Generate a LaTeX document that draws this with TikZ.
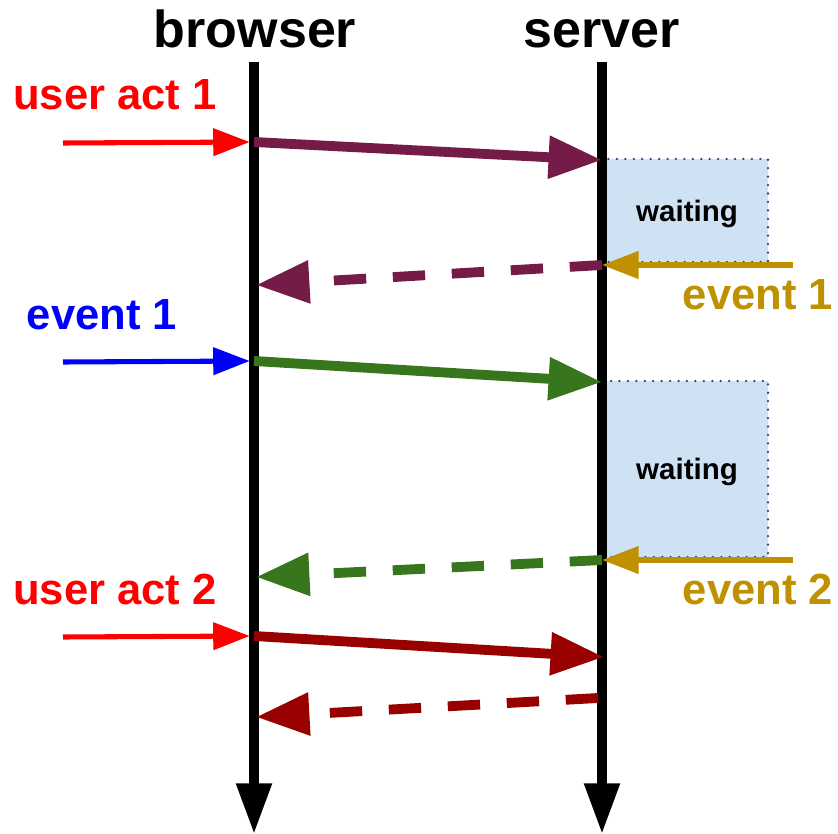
\documentclass[tikz,border=0pt]{standalone}
\usepackage{fontspec}
\setmainfont{Liberation Sans}
\usetikzlibrary{arrows.meta}
\definecolor{plum}{HTML}{741B47}
\definecolor{leaf}{HTML}{38761D}
\definecolor{blood}{HTML}{990000}
\definecolor{gold}{HTML}{BF9000}
\definecolor{sky}{HTML}{CFE2F3}
\definecolor{navy}{HTML}{1C4587}
\begin{document}
\begin{tikzpicture}[x=0.025cm,y=-0.025cm,
  head/.style={font=\fontsize{37}{40}\selectfont\bfseries,anchor=base},
  lbl/.style={font=\fontsize{31}{34}\selectfont\bfseries,anchor=base},
  waittext/.style={font=\fontsize{21}{24}\selectfont\bfseries,anchor=base},
  life/.style={draw,line width=6.5pt,-{Triangle[length=36pt,width=24pt]}},
  input/.style={draw,line width=3.6pt,shorten >=3pt,-{Triangle[length=26pt,width=19pt]}},
  msg/.style={draw,line width=7pt,-{Triangle[length=38pt,width=29pt]}},
  reply/.style={msg,dash pattern=on 23pt off 19pt},
  waitbox/.style={fill=sky,draw=navy,line width=1.8pt,line cap=round,dash pattern=on 0pt off 6pt}]
\useasboundingbox (0,0) rectangle (838,834);
% waiting boxes
\path[waitbox] (602,159) rectangle (768,262);
\node[waittext] (wait1) at (687,222) {waiting};
\path[waitbox] (602,381) rectangle (768,557);
\node[waittext] (wait2) at (687,480) {waiting};
% lifelines
\node[head] (browser) at (255,48) {browser};
\node[head] (server) at (602,48) {server};
\coordinate (btop) at (254,62);
\coordinate (bbot) at (254,834);
\coordinate (stop) at (602,62);
\coordinate (sbot) at (602,834);
\path[life] (btop) -- (bbot);
\path[life] (stop) -- (sbot);
% labels
\node[lbl,red] (act1) at (115,110) {user act 1};
\node[lbl,gold] (ev1s) at (758,310) {event 1};
\node[lbl,blue] (ev1b) at (102,330) {event 1};
\node[lbl,gold] (ev2s) at (758,605) {event 2};
\node[lbl,red] (act2) at (115,605) {user act 2};
% end points
\coordinate (in1) at (63,143);
\coordinate (b1) at (254,142);
\coordinate (s1) at (602,160);
\coordinate (g1) at (793,265);
\coordinate (s2) at (602,265);
\coordinate (b2) at (256,285);
\coordinate (in2) at (63,362);
\coordinate (b3) at (254,361);
\coordinate (s3) at (602,382);
\coordinate (g2) at (793,560);
\coordinate (s4) at (602,560);
\coordinate (b4) at (256,577);
\coordinate (in3) at (63,637);
\coordinate (b5) at (254,636);
\coordinate (s5) at (604,657);
\coordinate (s6) at (598,698);
\coordinate (b6) at (256,717);
% round 1
\path[input,red] (in1) -- (b1);
\path[msg,plum] (b1) -- (s1);
\path[input,gold,shorten >=0pt] (g1) -- (s2);
\path[reply,plum] (s2) -- (b2);
% round 2
\path[input,blue] (in2) -- (b3);
\path[msg,leaf] (b3) -- (s3);
\path[input,gold,shorten >=0pt] (g2) -- (s4);
\path[reply,leaf] (s4) -- (b4);
% round 3
\path[input,red] (in3) -- (b5);
\path[msg,blood] (b5) -- (s5);
\path[reply,blood] (s6) -- (b6);
\end{tikzpicture}
\end{document}
